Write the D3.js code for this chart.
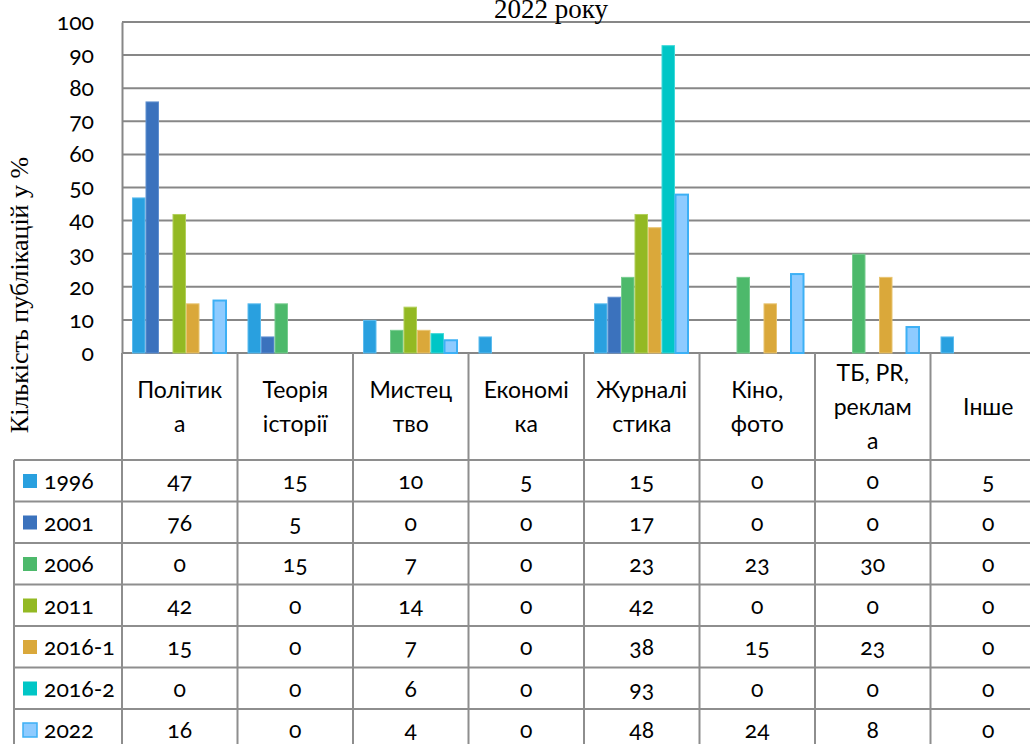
<!DOCTYPE html>
<html>
<head>
<meta charset="utf-8">
<script src="https://cdn.jsdelivr.net/npm/d3@7"></script>
<style>
  body { margin: 0; background: #fff; }
  svg text { font-family: Candara, Lato, "Open Sans", sans-serif; font-variant-numeric: oldstyle-nums; }
  svg text.serif { font-family: "Liberation Serif", "DejaVu Serif", serif; font-variant-numeric: normal; }
</style>
</head>
<body>
<div id="chart"></div>
<script>
// data
const categories = ["Політика", "Теорія історії", "Мистецтво", "Економіка", "Журналістика", "Кіно, фото", "ТБ, PR, реклама", "Інше"];
// header labels as wrapped in the table
const headerLines = [["Політик", "а"], ["Теорія", "історії"], ["Мистец", "тво"], ["Економі", "ка"], ["Журналі", "стика"], ["Кіно,", "фото"], ["ТБ, PR,", "реклам", "а"], ["Інше"]];
const series = ["1996", "2001", "2006", "2011", "2016-1", "2016-2", "2022"];
const v1996  = [47, 15, 10, 5, 15, 0, 0, 5];
const v2001  = [76, 5, 0, 0, 17, 0, 0, 0];
const v2006  = [0, 15, 7, 0, 23, 23, 30, 0];
const v2011  = [42, 0, 14, 0, 42, 0, 0, 0];
const v2016a = [15, 0, 7, 0, 38, 15, 23, 0];
const v2016b = [0, 0, 6, 0, 93, 0, 0, 0];
const v2022  = [16, 0, 4, 0, 48, 24, 8, 0];
const yTicks = [0, 10, 20, 30, 40, 50, 60, 70, 80, 90, 100];
const colors = ["#29a0df", "#3b72bd", "#4db96b", "#93b923", "#daa83a", "#00c6c6", "#8ecbff"];
const strokes = ["#5cbcef", "#5f8fd0", "#77cc8f", "#b2d05a", "#e8c471", "#3fd9d9", "#3db0f5"];
const rows = [v1996, v2001, v2006, v2011, v2016a, v2016b, v2022];

const W = 1030, H = 744;
const svg = d3.select("#chart").append("svg").attr("width", W).attr("height", H);

const colW = 115.5;
const plotLeft = 122, plotTop = 22, base = 353;
const tableLeft = 14;
const headerBottom = 460, rowH = 41.5;
const gridColor = "#878787";

const x0 = d3.scaleBand().domain(categories).range([plotLeft, plotLeft + colW * categories.length]);
const x1 = d3.scaleBand().domain(series).range([10, colW - 11]);
const y = d3.scaleLinear().domain([0, 100]).range([base, plotTop]);

// gridlines
svg.append("g").selectAll("line").data(yTicks).enter().append("line")
  .attr("x1", plotLeft).attr("x2", W)
  .attr("y1", d => y(d)).attr("y2", d => y(d))
  .attr("stroke", gridColor).attr("stroke-width", 2);

// y axis
const yAxis = svg.append("g").attr("transform", `translate(${plotLeft},0)`)
  .call(d3.axisLeft(y).tickValues(yTicks).tickSize(0).tickPadding(28));
yAxis.select(".domain").attr("stroke", gridColor).attr("stroke-width", 2);
yAxis.selectAll("text").attr("font-size", 23).attr("fill", "#000")
  .style("font-family", "Candara, Lato, sans-serif");

// bars
const groups = svg.append("g").selectAll("g").data(categories).enter().append("g")
  .attr("transform", d => `translate(${x0(d)},0)`);
groups.selectAll("rect")
  .data((c, ci) => series.map((s, si) => ({ s, si, v: rows[si][ci] })).filter(d => d.v > 0))
  .enter().append("rect")
  .attr("x", d => x1(d.s) + 0.5)
  .attr("width", x1.bandwidth() - 1)
  .attr("y", d => y(d.v) + 0.5)
  .attr("height", d => base - y(d.v) - 0.5)
  .attr("fill", d => colors[d.si])
  .attr("stroke", d => strokes[d.si])
  .attr("stroke-width", d => d.si === 6 ? 2 : 1);

// data table
const tableColor = "#8e8e8e";
const tbl = svg.append("g");
const tableRight = plotLeft + colW * categories.length;
// vertical lines
x0.domain().forEach(c => {
  tbl.append("line").attr("x1", x0(c)).attr("x2", x0(c))
    .attr("y1", base).attr("y2", H)
    .attr("stroke", tableColor).attr("stroke-width", 2);
});
tbl.append("line").attr("x1", tableLeft).attr("x2", tableLeft)
  .attr("y1", headerBottom).attr("y2", H)
  .attr("stroke", tableColor).attr("stroke-width", 2);
// horizontal lines
d3.range(series.length).forEach(i => {
  tbl.append("line")
    .attr("x1", tableLeft).attr("x2", tableRight)
    .attr("y1", headerBottom + i * rowH).attr("y2", headerBottom + i * rowH)
    .attr("stroke", tableColor).attr("stroke-width", 2);
});
// header labels
categories.forEach((c, ci) => {
  const lines = headerLines[ci];
  const lh = 34;
  const cy = (base + headerBottom) / 2 + 8 - (lines.length - 1) * lh / 2;
  const t = tbl.append("text").attr("text-anchor", "middle").attr("font-size", 23).attr("fill", "#000");
  lines.forEach((l, li) => {
    t.append("tspan").attr("x", x0(c) + colW / 2).attr("y", cy + li * lh).text(l);
  });
});
// rows
series.forEach((s, si) => {
  const ry = headerBottom + si * rowH;
  tbl.append("rect").attr("x", 23).attr("y", ry + 14).attr("width", 14).attr("height", 14)
    .attr("fill", colors[si]).attr("stroke", si === 6 ? strokes[si] : "none").attr("stroke-width", 1.5);
  tbl.append("text").attr("x", 44).attr("y", ry + 29).attr("font-size", 23).attr("fill", "#000").text(s);
  categories.forEach((c, ci) => {
    tbl.append("text").attr("x", x0(c) + colW / 2).attr("y", ry + 29)
      .attr("text-anchor", "middle").attr("font-size", 23).attr("fill", "#000")
      .text(rows[si][ci]);
  });
});

// axis title
svg.append("text").attr("class", "serif")
  .attr("transform", "translate(28,295) rotate(-90)")
  .attr("text-anchor", "middle").attr("font-size", 26).attr("fill", "#000")
  .text("Кількість публікацій у %");

// chart title (cut at top, as in the source)
svg.append("text").attr("class", "serif")
  .attr("x", 551).attr("y", 18)
  .attr("text-anchor", "middle").attr("font-size", 27).attr("fill", "#000")
  .text("2022 року");
</script>
</body>
</html>
